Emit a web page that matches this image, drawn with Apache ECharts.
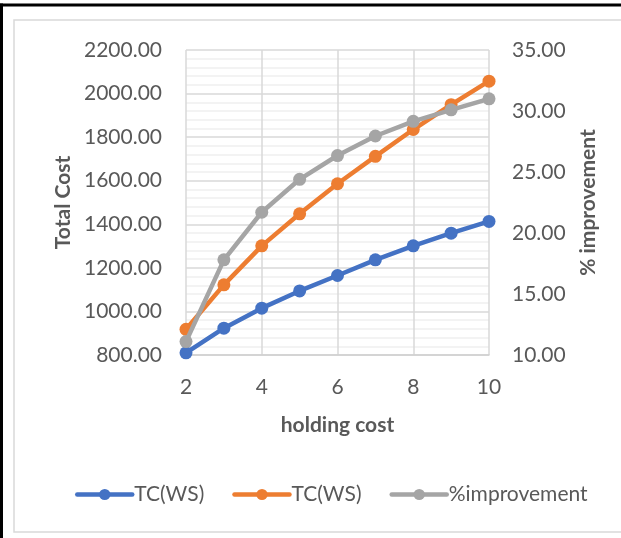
<!DOCTYPE html>
<html>
<head>
<meta charset="utf-8">
<style>
  html, body { margin: 0; padding: 0; background: #ffffff; }
  #chart { width: 621px; height: 538px; }
</style>
<script src="https://cdn.jsdelivr.net/npm/echarts@6/dist/echarts.min.js"></script>
</head>
<body>
<div id="chart"></div>
<script>
// holding cost values on the x axis
const holdingCost = [2, 3, 4, 5, 6, 7, 8, 9, 10];
// total cost, first scenario (left axis)
const tcFirst = [810, 923, 1015, 1094, 1165, 1237, 1301, 1359, 1413];
// total cost, second scenario (left axis)
const tcSecond = [918, 1122, 1301, 1448, 1586, 1712, 1835, 1949, 2057];
// percentage improvement (right axis)
const improvement = [11.1, 17.8, 21.7, 24.4, 26.35, 27.95, 29.15, 30.1, 31.0];

const seriesNames = ['TC(WS)', 'TC(WS)', '%improvement'];
const seriesColors = ['#4472C4', '#ED7D31', '#A5A5A5'];

const FONT = 'Lato';
const TEXT = '#595959';

function pairs(ys) {
  return holdingCost.map((x, i) => [x, ys[i]]);
}

// the two total-cost series share a label, so the second gets an invisible suffix
function seriesKey(idx) {
  return seriesNames[idx] + (idx === 1 ? '\u200b' : '');
}

function lineSeries(idx, ys, axis) {
  return {
    name: seriesKey(idx),
    type: 'line',
    yAxisIndex: axis,
    data: pairs(ys),
    symbol: 'circle',
    symbolSize: 13,
    showSymbol: true,
    itemStyle: { color: seriesColors[idx] },
    lineStyle: { color: seriesColors[idx], width: 4.5, cap: 'round', join: 'round' },
    emphasis: { disabled: true },
    animation: false,
    z: 2 + idx
  };
}

const chart = echarts.init(document.getElementById('chart'), null, { renderer: 'canvas' });

chart.setOption({
  backgroundColor: '#ffffff',
  animation: false,
  textStyle: { fontFamily: FONT, color: TEXT },
  grid: { left: 186, right: 132, top: 50, bottom: 183, containLabel: false },
  graphic: [
    { type: 'rect', shape: { x: 14, y: 20, width: 700, height: 512 },
      style: { fill: 'none', stroke: '#d9d9d9', lineWidth: 1.5 }, z: -10, silent: true },
    { type: 'line', shape: { x1: 0, y1: 5, x2: 621, y2: 5 },
      style: { stroke: '#000000', lineWidth: 3 }, z: 10, silent: true },
    { type: 'line', shape: { x1: 1.5, y1: 3.5, x2: 1.5, y2: 538 },
      style: { stroke: '#000000', lineWidth: 3 }, z: 10, silent: true }
  ],
  legend: {
    left: 70,
    top: 479,
    itemWidth: 55,
    itemHeight: 14,
    itemGap: 28,
    lineStyle: { width: 4.5 },
    textStyle: { fontFamily: FONT, fontSize: 21, color: TEXT, padding: [0, 0, 0, -3] },
    data: [seriesKey(0), seriesKey(1), seriesKey(2)],
    formatter: n => n.replace('\u200b', '')
  },
  xAxis: {
    type: 'value',
    min: 2, max: 10, interval: 2,
    name: 'holding cost',
    nameLocation: 'middle',
    nameGap: 60,
    nameTextStyle: { fontFamily: FONT, fontSize: 21, fontWeight: 'bold', color: TEXT },
    axisLine: { show: true, lineStyle: { color: '#d0d0d0', width: 1.5 } },
    axisTick: { show: false },
    axisLabel: { fontFamily: FONT, fontSize: 21, color: TEXT, margin: 22 },
    splitLine: { show: true, lineStyle: { color: '#d9d9d9', width: 1.5 } }
  },
  yAxis: [
    {
      type: 'value',
      position: 'left',
      min: 800, max: 2200, interval: 200,
      name: 'Total Cost',
      nameLocation: 'middle',
      nameRotate: 90,
      nameGap: 112,
      nameTextStyle: { fontFamily: FONT, fontSize: 21, fontWeight: 'bold', color: TEXT },
      axisLine: { show: false },
      axisTick: { show: false },
      axisLabel: { fontFamily: FONT, fontSize: 21, color: TEXT, margin: 24,
                   formatter: v => v.toFixed(2) },
      splitLine: { show: true, lineStyle: { color: '#d9d9d9', width: 1.5 } },
      minorTick: { show: false, splitNumber: 5 },
      minorSplitLine: { show: true, lineStyle: { color: '#efefef', width: 1.5 } }
    },
    {
      type: 'value',
      position: 'right',
      min: 10, max: 35, interval: 5,
      name: '% improvement',
      nameLocation: 'middle',
      nameRotate: 90,
      nameGap: 89,
      nameTextStyle: { fontFamily: FONT, fontSize: 21, fontWeight: 'bold', color: TEXT,
                       verticalAlign: 'top' },
      axisLine: { show: false },
      axisTick: { show: false },
      axisLabel: { fontFamily: FONT, fontSize: 21, color: TEXT, margin: 23,
                   formatter: v => v.toFixed(2) },
      splitLine: { show: false }
    }
  ],
  series: [
    lineSeries(0, tcFirst, 0),
    lineSeries(1, tcSecond, 0),
    lineSeries(2, improvement, 1)
  ]
});
</script>
</body>
</html>
